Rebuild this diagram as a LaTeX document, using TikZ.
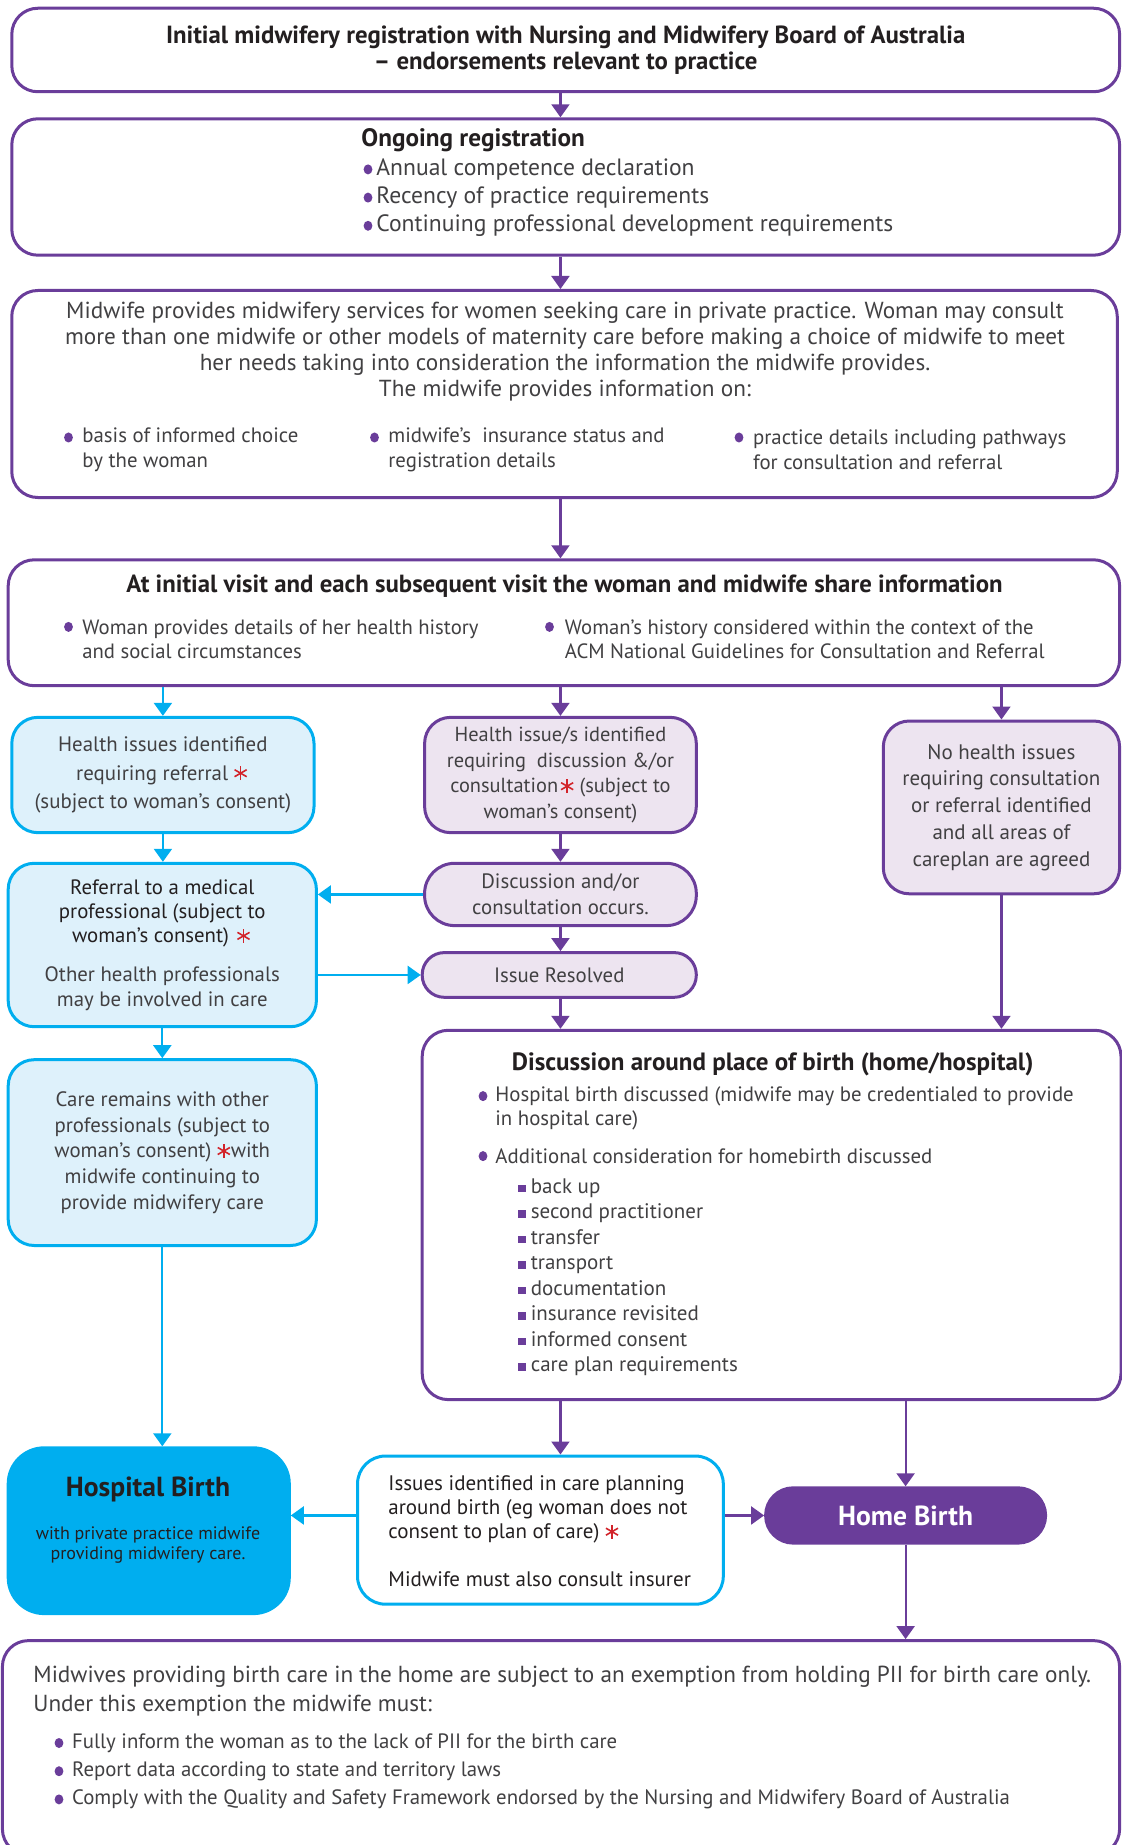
\documentclass[tikz,border=0pt]{standalone}
\usepackage{fontspec}
\setmainfont{PT Sans}
\usetikzlibrary{arrows.meta}

\definecolor{mwpurple}{RGB}{106,61,154}
\definecolor{mwlilac}{RGB}{237,228,240}
\definecolor{mwblue}{RGB}{0,174,239}
\definecolor{mwsky}{RGB}{222,241,251}
\definecolor{mwred}{RGB}{210,35,42}
\definecolor{mwgrey}{RGB}{65,64,66}
\definecolor{mwdark}{RGB}{35,31,32}

% six-armed red asterisk
\newcommand{\starbar}[1]{\makebox[0pt]{\rotatebox[origin=c]{#1}{\rule[-0.4pt]{7pt}{0.8pt}}}}
\newcommand{\redstar}{\textcolor{mwred}{\hspace{4.5pt}\raisebox{0.33em}{\starbar{90}\starbar{30}\starbar{150}}\hspace{4.5pt}}}
\newcommand{\fsz}[2]{\fontsize{#1}{#2}\selectfont}

\tikzset{
  box/.style={draw=mwpurple, line width=1.5pt, rounded corners=13pt, fill=white,
    inner sep=0pt, align=center, text=mwgrey},
  lilac/.style={box, fill=mwlilac},
  sky/.style={box, draw=mwblue, fill=mwsky},
  txt/.style={inner sep=0pt, align=center, text=mwgrey},
  ltxt/.style={inner sep=0pt, align=left, anchor=west, text=mwgrey},
  parrow/.style={draw=mwpurple, line width=1.1pt, -{Triangle[width=9pt,length=6.5pt]}},
  barrow/.style={parrow, draw=mwblue},
}

\begin{document}
\begin{tikzpicture}[x=0.5pt,y=-0.5pt]
\useasboundingbox (0,0) rectangle (1122,1845);

% top of the flow
\node[box, minimum width=553.9pt, minimum height=41.75pt, font=\bfseries\fsz{12.4}{12.9}, text=mwdark] (B1) at (565.7,50)
  {Initial midwifery registration with Nursing and Midwifery Board of Australia\\– endorsements relevant to practice};

\node[box, minimum width=553.9pt, minimum height=68.2pt] (B2) at (565.7,187) {};
\node[ltxt, font=\bfseries\fsz{12.6}{14}, text=mwdark] (B2h) at (361,140) {Ongoing registration};
\node[ltxt, font=\fsz{11.8}{14.1}] (B2t) at (376,197.6)
  {Annual competence declaration\\Recency of practice requirements\\Continuing professional development requirements};

\node[box, minimum width=552.75pt, minimum height=103.5pt] (B3) at (564.5,394) {};
\node[txt, font=\fsz{11.6}{12.9}] (B3t) at (565,351.6)
  {Midwife provides midwifery services for women seeking care in private practice. Woman may consult\\
   more than one midwife or other models of maternity care before making a choice of midwife to meet\\
   her needs taking into consideration the information the midwife provides.\\
   The midwife provides information on:};
\node[ltxt, font=\fsz{10.4}{12.35}] (B3a) at (82,449.8) {basis of informed choice\\by the woman};
\node[ltxt, font=\fsz{10.4}{12.35}] (B3b) at (388,449.8) {midwife's\ \ insurance status and\\registration details};
\node[ltxt, font=\fsz{10.4}{12.35}] (B3c) at (752.7,449.8) {practice details including pathways\\for consultation and referral};

\node[box, minimum width=555.7pt, minimum height=62.95pt] (B4) at (563.9,622.75) {};
\node[txt, font=\bfseries\fsz{12.4}{12}, text=mwdark] (B4h) at (564.5,585.7)
  {At initial visit and each subsequent visit the woman and midwife share information};
\node[ltxt, font=\fsz{10.35}{12.35}] (B4a) at (82,639.2) {Woman provides details of her health history\\and social circumstances};
\node[ltxt, font=\fsz{10.35}{12.35}] (B4b) at (564.5,639.2) {Woman's history considered within the context of the\\ACM National Guidelines for Consultation and Referral};

% referral column
\node[sky, minimum width=151.1pt, minimum height=57.65pt, font=\fsz{10.45}{14.4}] (L1) at (162.9,775)
  {Health issues identified\\requiring referral\,\redstar\\(subject to woman’s consent)};
\node[sky, minimum width=154.1pt, minimum height=81.7pt, font=\fsz{10.4}{12.1}] (L2) at (162.3,945)
  {\textcolor{mwdark}{Referral to a medical}\\\textcolor{mwdark}{professional (subject to}\\\textcolor{mwdark}{woman’s consent)\ \redstar}\\[7.5pt]
   Other health professionals\\may be involved in care};
\node[sky, minimum width=154.1pt, minimum height=92.9pt, font=\fsz{10.4}{12.8}] (L3) at (162.3,1152.6)
  {Care remains with other\\professionals (subject to\\woman’s consent)\,\redstar\hspace{-1pt}with\\midwife continuing to\\provide midwifery care};

% consultation column
\node[lilac, minimum width=135.85pt, minimum height=57.65pt, font=\fsz{10.2}{12.9}] (M1) at (560.45,775)
  {Health issue/s identified\\requiring\ \ discussion \&/or\\consultation\redstar\,(subject to\\woman’s consent)};
\node[lilac, rounded corners=15pt, minimum width=135.85pt, minimum height=31.15pt, font=\fsz{10.4}{12.9}] (M2) at (560.45,894.45)
  {Discussion and/or\\consultation occurs.};
\node[lilac, rounded corners=11pt, minimum width=137.05pt, minimum height=22.35pt, font=\fsz{10.4}{12.9}] (M3) at (559.25,974.95)
  {Issue Resolved};

\node[lilac, minimum width=118.15pt, minimum height=86.4pt, font=\fsz{10.5}{13.4}] (R1) at (1001.45,807.4)
  {No health issues\\requiring consultation\\or referral identified\\and all areas of\\careplan are agreed};

% place of birth
\node[box, minimum width=349.4pt, minimum height=184.65pt] (D) at (771.6,1214.95) {};
\node[txt, font=\bfseries\fsz{12.5}{12}, text=mwdark] (Dh) at (772.7,1064.4) {Discussion around place of birth (home/hospital)};
\node[ltxt, font=\fsz{10.4}{12.35}] (Da) at (495,1108.4)
  {Hospital birth discussed (midwife may be credentialed to provide\\in hospital care)};
\node[ltxt, font=\fsz{10.4}{12.35}] (Db) at (495,1156.1) {Additional consideration for homebirth discussed};
\node[ltxt, font=\fsz{10.5}{12.77}] (Dc) at (530.4,1277.3)
  {back up\\second practitioner\\transfer\\transport\\documentation\\insurance revisited\\informed consent\\care plan requirements};

\node[box, draw=mwblue, fill=mwblue, rounded corners=18pt, minimum width=140.55pt, minimum height=82.9pt] (HB) at (148.75,1530.7) {};
\node[txt, font=\bfseries\fsz{13.8}{14}, text=mwdark] (HBh) at (148,1489) {Hospital Birth};
\node[txt, font=\fsz{9}{10}, text=mwdark] (HBt) at (148,1544.8) {with private practice midwife\\providing midwifery care.};

\node[box, draw=mwblue, rounded corners=14pt, minimum width=182.9pt, minimum height=74.1pt] (IB) at (540.4,1530.1) {};
\node[ltxt, font=\fsz{10.5}{12.1}, text=mwdark] (IBt) at (388,1531.2)
  {Issues identified in care planning\\around birth (eg woman does not\\consent to plan of care)\,\redstar\\[12pt]Midwife must also consult insurer};

\node[box, fill=mwpurple, rounded corners=13.8pt, minimum width=140pt, minimum height=27.65pt,
  font=\bfseries\fsz{13.8}{14}, text=white] (HM) at (905.6,1515.45) {Home Birth};

\node[box, minimum width=558.6pt, minimum height=107.2pt] (BB) at (561,1747.8) {};
\node[ltxt, font=\fsz{11.6}{14.1}] (BBh) at (33,1691.1)
  {Midwives providing birth care in the home are subject to an exemption from holding PII for birth care only.\\Under this exemption the midwife must:};
\node[ltxt, font=\fsz{10.4}{14.1}] (BBt) at (71.7,1771.2)
  {Fully inform the woman as to the lack of PII for the birth care\\Report data according to state and territory laws\\Comply with the Quality and Safety Framework endorsed by the Nursing and Midwifery Board of Australia};

% bullets
\foreach \bx/\by in {368/169.4, 368/197.6, 368/225.8, 68.5/437.5, 374.5/437.5, 739/437.5,
    68.5/626.9, 549.5/626.9, 483/1096.1, 483/1156.1, 59/1743, 59/1771.2, 59/1799.4}
  \fill[mwpurple] (\bx,\by) ellipse (2.2pt and 2.5pt);
\foreach \i in {0,...,7}
  \fill[mwpurple] (518,1184.5+25.54*\i) rectangle +(7.5,7.5);

% arrows
\path (B1.south -| M1) edge[parrow] (B2.north -| M1);
\path (B2.south -| M1) edge[parrow] (B3.north -| M1);
\path (B3.south -| M1) edge[parrow] (B4.north -| M1);
\path (B4.south -| L1) edge[barrow] (L1.north);
\path (B4.south -| M1) edge[parrow] (M1.north);
\path (B4.south -| R1) edge[parrow] (R1.north);
\path (L1.south) edge[barrow] (L2.north -| L1);
\path (L2.south) edge[barrow] (L3.north);
\path (M1.south) edge[parrow] (M2.north);
\path (M2.south) edge[parrow] (M3.north -| M2);
\path (M3.south -| M2) edge[parrow] (D.north -| M2);
\path (R1.south) edge[parrow] (D.north -| R1);
\path (M2.west) edge[barrow] (L2.east |- M2);
\path (L2.east |- M3) edge[barrow] (M3.west);
\path (L3.south) edge[barrow] (HB.north -| L3);
\path (D.south -| M2) edge[parrow] (IB.north -| M2);
\path (D.south -| HM) edge[parrow] (HM.north);
\path (IB.west |- HM) edge[barrow] (HB.east |- HM);
\path (IB.east |- HM) edge[parrow] (HM.west);
\path (HM.south) edge[parrow] (BB.north -| HM);
\end{tikzpicture}
\end{document}
